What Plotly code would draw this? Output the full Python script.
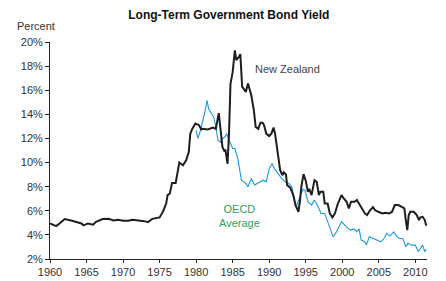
import plotly.graph_objects as go

nz_year = [1960.0, 1960.85, 1961.3, 1962.0, 1963.0, 1963.6, 1964.3, 1964.6, 1965.2, 1965.9,
           1966.3, 1967.2, 1968.0, 1968.7, 1969.3, 1970.0, 1970.7, 1971.3, 1972.2, 1972.9,
           1973.4, 1974.0, 1975.0, 1975.45, 1975.9, 1976.1, 1976.4, 1976.7, 1977.2, 1977.5,
           1977.7, 1978.2, 1978.65, 1979.0, 1979.2, 1979.5, 1979.9, 1980.4, 1980.7, 1980.9,
           1981.6, 1982.3, 1982.7, 1983.1, 1983.3, 1983.6, 1983.9, 1984.0, 1984.3, 1984.5,
           1984.7, 1985.0, 1985.3, 1985.5, 1985.9, 1986.05, 1986.3, 1986.8, 1987.1, 1987.4,
           1987.55, 1987.9, 1988.15, 1988.5, 1988.8, 1989.1, 1989.3, 1989.6, 1990.0, 1990.3,
           1990.6, 1990.8, 1991.2, 1991.5, 1991.8, 1992.0, 1992.3, 1992.45, 1992.9, 1993.3,
           1993.6, 1994.0, 1994.2, 1994.4, 1994.7, 1995.0, 1995.3, 1995.5, 1995.8, 1996.0,
           1996.2, 1996.5, 1996.8, 1997.0, 1997.4, 1997.6, 1998.0, 1998.3, 1998.65, 1999.0,
           1999.4, 1999.9, 2000.1, 2000.6, 2000.9, 2001.2, 2001.7, 2002.0, 2002.3, 2002.6,
           2003.1, 2003.4, 2003.8, 2004.2, 2004.5, 2005.0, 2005.5, 2005.9, 2006.4, 2006.8,
           2007.2, 2007.7, 2008.2, 2008.5, 2008.7, 2008.9, 2009.1, 2009.3, 2009.8, 2010.2,
           2010.5, 2010.7, 2011.0, 2011.3, 2011.5]
nz_value = [4.95, 4.73, 4.95, 5.31, 5.17, 5.09, 4.95, 4.79, 4.95, 4.85,
            5.09, 5.31, 5.33, 5.2, 5.25, 5.17, 5.17, 5.25, 5.2, 5.14,
            5.06, 5.33, 5.45, 5.92, 6.6, 7.3, 7.44, 8.3, 8.3, 9.37,
            10.0, 9.78, 10.2, 10.9, 12.4, 12.83, 13.24, 13.1, 12.74, 12.8,
            12.74, 12.9, 12.8, 14.1, 12.96, 11.3, 10.9, 11.1, 9.9, 12.4,
            16.5, 17.5, 19.3, 18.5, 18.8, 19.0, 16.3, 15.86, 16.55, 15.9,
            15.58, 14.34, 12.96, 12.8, 13.3, 13.3, 13.1, 12.4, 12.2, 12.4,
            12.9, 12.4, 10.75, 9.37, 8.95, 9.2, 9.0, 8.13, 7.9, 7.3,
            6.47, 5.92, 6.75, 8.0, 9.04, 8.5, 7.57, 7.8, 7.3, 7.8,
            8.54, 8.4, 7.3, 7.57, 7.57, 6.6, 6.6, 5.78, 5.45, 5.78,
            6.6, 7.3, 7.1, 6.75, 6.2, 6.75, 6.75, 6.9, 6.6, 6.2,
            5.78, 5.64, 6.04, 6.3, 6.04, 5.9, 5.78, 5.83, 5.78, 5.9,
            6.47, 6.47, 6.3, 6.2, 5.23, 4.4, 5.64, 5.92, 5.92, 5.64,
            5.23, 5.45, 5.5, 5.23, 4.76]

oecd_year = [1980.0, 1980.25, 1980.6, 1980.9, 1981.3, 1981.5, 1981.7, 1982.1, 1982.4, 1982.6,
             1982.8, 1983.0, 1983.3, 1983.6, 1983.9, 1984.2, 1984.5, 1985.0, 1985.3, 1985.7,
             1986.2, 1986.8, 1987.1, 1987.55, 1988.0, 1988.7, 1989.2, 1989.6, 1990.0, 1990.4,
             1990.7, 1991.2, 1991.7, 1992.2, 1992.7, 1993.1, 1993.3, 1993.7, 1994.2, 1994.6,
             1994.9, 1995.3, 1995.8, 1996.2, 1996.7, 1997.1, 1997.6, 1998.05, 1998.75, 1999.2,
             1999.9, 2000.6, 2001.1, 2001.6, 2002.0, 2002.3, 2002.6, 2003.1, 2003.3, 2003.7,
             2004.2, 2004.7, 2005.3, 2005.7, 2006.1, 2006.5, 2007.05, 2007.5, 2007.9, 2008.3,
             2008.7, 2009.0, 2009.5, 2010.0, 2010.4, 2011.0, 2011.3, 2011.5]
oecd_value = [12.68, 12.0, 12.68, 13.37, 14.48, 15.17, 14.48, 14.07, 13.8, 13.24,
              12.4, 11.85, 11.7, 12.0, 12.1, 12.4, 11.85, 11.17, 11.17, 10.34,
              8.54, 8.27, 7.99, 8.68, 8.13, 8.4, 8.54, 8.4, 9.5, 9.92,
              9.5, 9.1, 8.68, 8.4, 8.27, 8.0, 7.16, 6.33, 7.16, 7.77,
              7.7, 6.75, 6.47, 6.9, 6.33, 5.78, 5.78, 4.95, 3.84, 4.25,
              5.09, 4.67, 4.4, 4.5, 4.25, 4.5, 3.57, 3.43, 3.15, 3.84,
              3.7, 3.57, 3.43, 3.7, 4.12, 3.9, 4.25, 3.84, 3.7, 3.7,
              3.02, 3.3, 3.15, 3.15, 2.6, 3.15, 2.6, 2.8]

x_ticks = [1960, 1965, 1970, 1975, 1980, 1985, 1990, 1995, 2000, 2005, 2010]
y_ticks = [2, 4, 6, 8, 10, 12, 14, 16, 18, 20]
y_tick_labels = [f"{v}%" for v in y_ticks]

font_family = "Liberation Sans, Arial, sans-serif"

fig = go.Figure()
fig.add_trace(go.Scatter(x=oecd_year, y=oecd_value, mode="lines",
                         line=dict(color="#1a9ad9", width=1.1), name="OECD Average",
                         showlegend=False, hoverinfo="skip"))
fig.add_trace(go.Scatter(x=nz_year, y=nz_value, mode="lines",
                         line=dict(color="#1e1e1e", width=2), name="New Zealand",
                         showlegend=False, hoverinfo="skip"))

fig.update_layout(
    width=446, height=281,
    margin=dict(l=50, r=19, t=42, b=22, autoexpand=False),
    paper_bgcolor="white", plot_bgcolor="white",
    font=dict(family=font_family, size=11, color="#333333"),
    title=dict(text="<b>Long-Term Government Bond Yield</b>", x=0.513, xanchor="center",
               y=0.947, yanchor="middle", font=dict(size=12, color="#111111")),
    xaxis=dict(range=[1960, 2011.6], tickvals=x_ticks, showgrid=False, zeroline=False,
               showline=True, linecolor="#222222", linewidth=1, ticks="outside",
               ticklen=3, tickcolor="#222222", tickfont=dict(size=11, color="#333333"),
               automargin=False),
    yaxis=dict(range=[2, 20], tickvals=y_ticks, ticktext=y_tick_labels, showgrid=False,
               zeroline=False, showline=True, linecolor="#222222", linewidth=1,
               ticks="outside", ticklen=4, tickcolor="#222222",
               tickfont=dict(size=11, color="#333333"), automargin=False),
    annotations=[
        dict(text="Percent", xref="paper", yref="paper", x=-0.036, y=1.075,
             xanchor="center", yanchor="middle", showarrow=False,
             font=dict(size=11, color="#333333")),
        dict(text="New Zealand", xref="x", yref="y", x=1992.5, y=17.74,
             xanchor="center", yanchor="middle", showarrow=False,
             font=dict(size=11, color="#444444")),
        dict(text="OECD<br>Average", xref="x", yref="y", x=1986.0, y=5.56,
             xanchor="center", yanchor="middle", showarrow=False,
             font=dict(size=11, color="#2ea35c")),
    ],
)

fig.write_html("out.html", config={"displayModeBar": False},
               post_script="document.body.style.margin='0';document.body.style.overflow='hidden';")
